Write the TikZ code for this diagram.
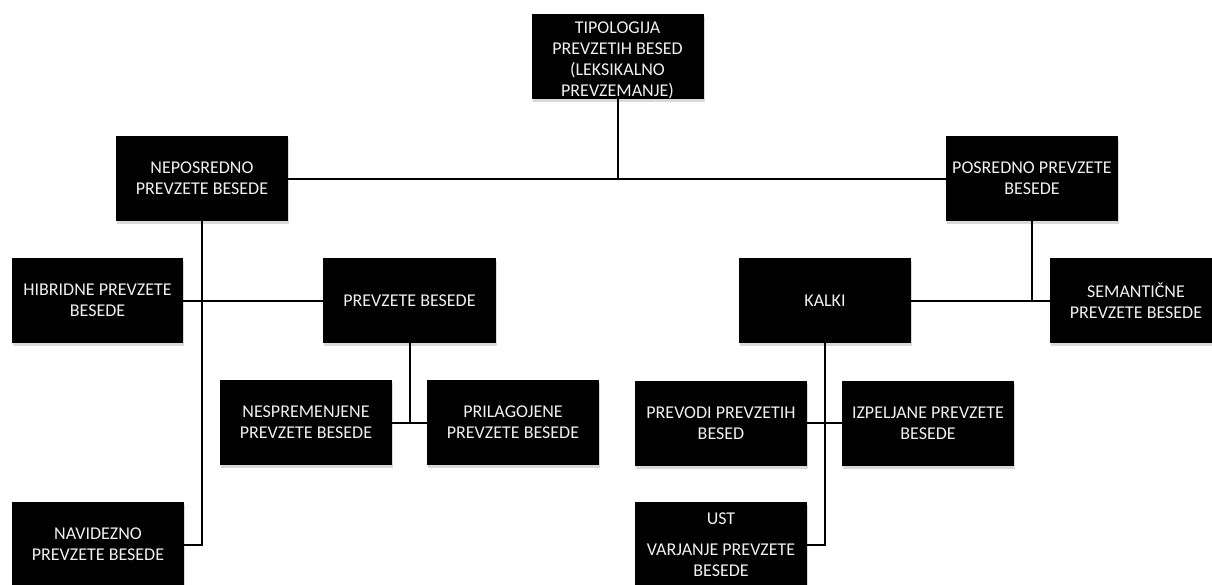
\documentclass[tikz,border=0pt]{standalone}
\usepackage{fontspec}
\setmainfont{Carlito}
\usetikzlibrary{shadows}
\tikzset{
  box/.style={rectangle, fill=black, text=white!94!black, minimum width=172pt, minimum height=85pt,
    inner sep=0pt, align=center, font=\fontsize{18}{21}\selectfont,
    drop shadow={shadow xshift=1pt, shadow yshift=-3pt, opacity=0.3, fill=black!50}},
  link/.style={line width=2pt, draw=black}
}
\begin{document}
\begin{tikzpicture}[x=1pt,y=-1pt]
\useasboundingbox (0,0) rectangle (1212,584);
\node[box] (top) at (617.5,56.5) {\rule{0pt}{19pt}TIPOLOGIJA\\PREVZETIH BESED\\(LEKSIKALNO\\PREVZEMANJE)};
\node[box] (nep) at (202,178.5) {NEPOSREDNO\\PREVZETE BESEDE};
\node[box] (pos) at (1032,178.5) {POSREDNO PREVZETE\\BESEDE};
\node[box, minimum width=171pt] (hib) at (97.5,300.5) {HIBRIDNE PREVZETE\\BESEDE};
\node[box, minimum width=173pt] (prev) at (409.5,300.5) {PREVZETE BESEDE};
\node[box] (kalki) at (825,300.5) {KALKI};
\node[box] (sem) at (1136,300.5) {SEMANTIČNE\\PREVZETE BESEDE};
\node[box] (nesp) at (306,422.5) {NESPREMENJENE\\PREVZETE BESEDE};
\node[box] (pril) at (513,422.5) {PRILAGOJENE\\PREVZETE BESEDE};
\node[box] (prevodi) at (721,423) {PREVODI PREVZETIH\\BESED};
\node[box] (izp) at (928,423) {IZPELJANE PREVZETE\\BESEDE};
\node[box] (nav) at (98,544.5) {NAVIDEZNO\\PREVZETE BESEDE};
\node[box] (ust) at (721,544.5) {UST\\[10pt]VARJANJE PREVZETE\\BESEDE};

\draw[link] (nep.east) -- (pos.west);
\draw[link] (top.south) -- (top.south |- nep.east);
\draw[link] (nep.south) |- (nav.east);
\draw[link] (hib.east) -- (prev.west);
\draw[link] (prev.south) -- (prev.south |- nesp.east);
\draw[link] (nesp.east) -- (pril.west);
\draw[link] (pos.south) -- (pos.south |- kalki.east);
\draw[link] (kalki.east) -- (sem.west);
\draw[link] (kalki.south) |- (ust.east);
\draw[link] (prevodi.east) -- (izp.west);
\end{tikzpicture}
\end{document}
